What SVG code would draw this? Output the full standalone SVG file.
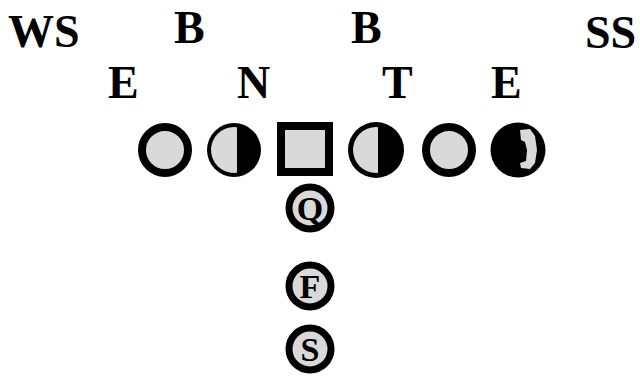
<svg xmlns="http://www.w3.org/2000/svg" width="640" height="379" viewBox="0 0 640 379">
<style>
.lbl{font-family:"Liberation Serif","Times New Roman",serif;font-weight:bold;font-size:46px;fill:#000}
.ltr{font-family:"Liberation Serif","Times New Roman",serif;font-weight:bold;font-size:34px;fill:#000;text-anchor:middle}
.pl{fill:#d9d9d9;stroke:#000;stroke-width:8}
.sm{fill:#d9d9d9;stroke:#000;stroke-width:7}
.lt{fill:#d9d9d9}
</style>
<defs>
<clipPath id="in2"><circle cx="234" cy="150" r="23"/></clipPath>
<clipPath id="in4"><circle cx="376" cy="150" r="23"/></clipPath>
</defs>
<rect width="640" height="379" fill="#fff"/>
<g id="labels">
<text class="lbl" x="8" y="47">WS</text>
<text class="lbl" x="174" y="43">B</text>
<text class="lbl" x="351" y="43">B</text>
<text class="lbl" x="585" y="48">SS</text>
<text class="lbl" x="108" y="98">E</text>
<text class="lbl" x="237" y="98">N</text>
<text class="lbl" x="382" y="98">T</text>
<text class="lbl" x="491" y="98">E</text>
</g>
<g id="connectors"></g>
<g id="n1"><circle class="pl" cx="165" cy="150" r="23"/></g>
<g id="n2">
<circle cx="234" cy="150" r="27" fill="#000"/>
<rect class="lt" x="205" y="120" width="32" height="60" clip-path="url(#in2)"/>
</g>
<g id="center"><rect class="pl" x="281" y="126" width="48" height="46"/></g>
<g id="n4">
<circle cx="376" cy="150" r="28" fill="#000"/>
<rect class="lt" x="345" y="120" width="33" height="60" clip-path="url(#in4)"/>
</g>
<g id="n5"><circle class="pl" cx="449" cy="150" r="23"/></g>
<g id="n6">
<circle cx="518" cy="150" r="27.5" fill="#000"/>
<path class="lt" d="M520,130 L530,129 L535,136 L537,150 L535,163 L530,169 L521,168 L520,163 L526,161 L527,150 L525,142 L521,140 Z"/>
</g>
<g id="q"><circle class="sm" cx="310" cy="208" r="21"/><text class="ltr" x="310" y="220">Q</text></g>
<g id="f"><circle class="sm" cx="310" cy="286" r="21"/><text class="ltr" x="310" y="298">F</text></g>
<g id="s"><circle class="sm" cx="310" cy="349" r="21"/><text class="ltr" x="310" y="361">S</text></g>
</svg>
